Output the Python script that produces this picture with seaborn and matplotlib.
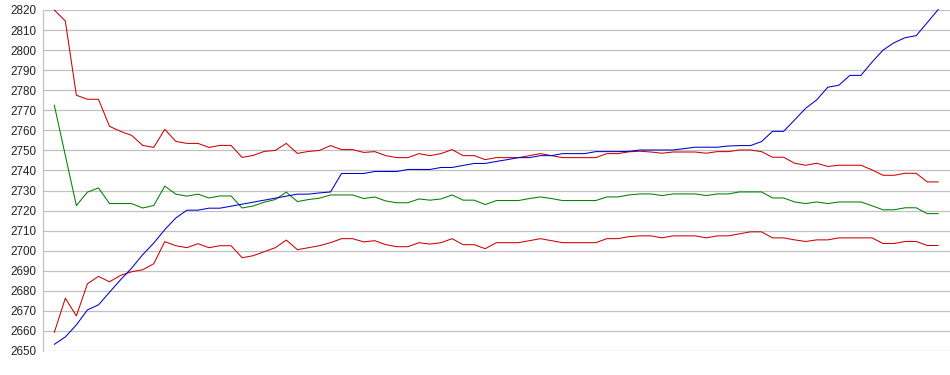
import numpy as np
import pandas as pd
import matplotlib
matplotlib.use("Agg")
import matplotlib.pyplot as plt
import seaborn as sns

blue = [2653.3, 2657, 2663, 2670.5, 2673, 2679.3, 2685.5, 2691.3, 2698, 2703.8,
        2710.5, 2716.3, 2720.2, 2720.2, 2721.2, 2721.2, 2722.2, 2723.2, 2724.2, 2725.2,
        2726.2, 2727.2, 2728.2, 2728.2, 2728.8, 2729.3, 2738.5, 2738.5, 2738.5, 2739.5,
        2739.5, 2739.5, 2740.5, 2740.5, 2740.5, 2741.5, 2741.5, 2742.5, 2743.5, 2743.5,
        2744.5, 2745.4, 2746.4, 2746.4, 2747.4, 2747.4, 2748.4, 2748.4, 2748.4, 2749.4,
        2749.4, 2749.4, 2749.5, 2750.2, 2750.2, 2750.2, 2750.2, 2750.9, 2751.6, 2751.6,
        2751.6, 2752.2, 2752.4, 2752.4, 2754.4, 2759.5, 2759.5, 2765.2, 2771, 2775.2,
        2781.5, 2782.5, 2787.4, 2787.4, 2794, 2800, 2803.7, 2806.2, 2807.2, 2813.7,
        2820.3]

upper = [2820, 2814.5, 2777.5, 2775.5, 2775.5, 2762, 2759.5, 2757.5, 2752.5, 2751.5,
         2760.5, 2754.5, 2753.5, 2753.5, 2751.5, 2752.5, 2752.5, 2746.5, 2747.5, 2749.5,
         2750, 2753.5, 2748.5, 2749.5, 2750, 2752.4, 2750.4, 2750.4, 2749, 2749.4,
         2747.4, 2746.4, 2746.4, 2748.4, 2747.4, 2748.4, 2750.4, 2747.4, 2747.4, 2745.4,
         2746.4, 2746.4, 2746.4, 2747.4, 2748.4, 2747.4, 2746.4, 2746.4, 2746.4, 2746.4,
         2748.4, 2748.4, 2749.3, 2749.6, 2749.2, 2748.6, 2749.2, 2749.2, 2749.2, 2748.6,
         2749.4, 2749.4, 2750.2, 2750.2, 2749.4, 2746.6, 2746.6, 2743.6, 2742.6, 2743.6,
         2742, 2742.6, 2742.6, 2742.6, 2740.3, 2737.6, 2737.6, 2738.6, 2738.6, 2734.3,
         2734.3]

middle = [2772.6, 2747.5, 2722.5, 2729.2, 2731.3, 2723.5, 2723.5, 2723.5, 2721.3, 2722.5,
          2732.2, 2728.2, 2727.2, 2728.2, 2726.3, 2727.3, 2727.3, 2721.3, 2722.3, 2724.2,
          2725.5, 2729.2, 2724.5, 2725.5, 2726.2, 2727.8, 2727.8, 2727.8, 2726, 2726.8,
          2724.8, 2723.9, 2723.9, 2725.8, 2725.2, 2725.8, 2727.8, 2725.2, 2725.2, 2723,
          2725, 2725, 2725, 2726, 2726.8, 2726, 2725, 2725, 2725, 2725,
          2726.8, 2726.8, 2727.8, 2728.3, 2728.3, 2727.5, 2728.3, 2728.3, 2728.3, 2727.5,
          2728.3, 2728.3, 2729.3, 2729.3, 2729.3, 2726.3, 2726.3, 2724.3, 2723.5, 2724.3,
          2723.5, 2724.3, 2724.3, 2724.3, 2722.4, 2720.4, 2720.4, 2721.4, 2721.4, 2718.5,
          2718.5]

lower = [2659.2, 2676.3, 2667.5, 2683.5, 2687.2, 2684.5, 2687.7, 2689.5, 2690.5, 2693.5,
         2704.5, 2702.5, 2701.5, 2703.5, 2701.5, 2702.5, 2702.5, 2696.5, 2697.5, 2699.5,
         2701.5, 2705.3, 2700.5, 2701.5, 2702.5, 2704, 2706, 2706, 2704.4, 2705,
         2703, 2702, 2702, 2704, 2703.3, 2704, 2706, 2703, 2703, 2701,
         2704, 2704, 2704, 2705, 2706, 2705, 2704, 2704, 2704, 2704,
         2706, 2706, 2707, 2707.4, 2707.4, 2706.4, 2707.4, 2707.4, 2707.4, 2706.4,
         2707.4, 2707.4, 2708.4, 2709.4, 2709.4, 2706.4, 2706.4, 2705.4, 2704.6, 2705.4,
         2705.4, 2706.4, 2706.4, 2706.4, 2706.4, 2703.6, 2703.6, 2704.6, 2704.6, 2702.6,
         2702.6]

y_ticks = list(range(2650, 2821, 10))

sns.set_style("white")
plt.rcParams['font.family'] = ['Liberation Sans', 'DejaVu Sans']

idx = np.arange(len(blue))
df = pd.DataFrame({"i": idx, "blue": blue, "upper": upper, "middle": middle, "lower": lower})

fig = plt.figure(figsize=(9.5, 3.75), dpi=100)
ax = fig.add_axes([43 / 950, 24 / 375, 907 / 950, 341 / 375])

lw = 0.75
for col, c in [("middle", "#008000"), ("lower", "#cc0000"), ("upper", "#cc0000"), ("blue", "#0000cc")]:
    sns.lineplot(data=df, x="i", y=col, color=c, linewidth=lw, ax=ax, clip_on=False)

ax.set_xlim(-1.02, 81.06)
ax.set_ylim(2650, 2820)
ax.set_yticks(y_ticks)
ax.set_yticklabels([str(t) for t in y_ticks], fontsize=8.4, color="#222222")
ax.set_xticks([])
ax.set_xlabel("")
ax.set_ylabel("")
ax.tick_params(axis="y", length=0, pad=5)
ax.yaxis.grid(True, color="#c0c0c0", linewidth=0.9)
ax.set_axisbelow(True)
for s in ["top", "right", "bottom"]:
    ax.spines[s].set_visible(False)
ax.spines["left"].set_color("#c0c0c0")
ax.spines["left"].set_linewidth(0.9)

fig.savefig("out.png", dpi=100)
